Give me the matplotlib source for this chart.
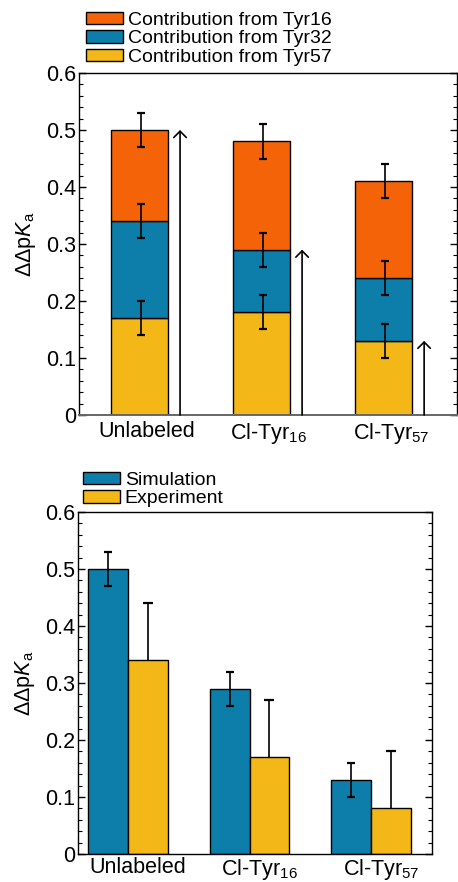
import numpy as np
import matplotlib.pyplot as plt
from matplotlib.ticker import MultipleLocator

plt.rcParams['font.family'] = ['Liberation Sans', 'DejaVu Sans']
plt.rcParams['mathtext.fontset'] = 'custom'
plt.rcParams['mathtext.rm'] = 'Liberation Sans'
plt.rcParams['mathtext.it'] = 'Liberation Sans:italic'

# 数据
groups = ['Unlabeled', 'Cl-Tyr$_{16}$', 'Cl-Tyr$_{57}$']
tyr57 = [0.17, 0.18, 0.13]
tyr32 = [0.17, 0.11, 0.11]
tyr16 = [0.16, 0.19, 0.17]
contrib_err = [0.03, 0.03, 0.03]
arrow_tops = [0.50, 0.29, 0.13]

simulation = [0.50, 0.29, 0.13]
sim_err = [0.03, 0.03, 0.03]
experiment = [0.34, 0.17, 0.08]
exp_err = [0.10, 0.10, 0.10]

c_orange = '#F56309'
c_blue = '#0D7EAA'
c_yellow = '#F4B718'

fig = plt.figure(figsize=(4.58, 8.82), dpi=100)
ax1 = fig.add_axes([0.1725, 0.5295, 0.8255, 0.3877])
ax2 = fig.add_axes([0.1703, 0.0317, 0.7727, 0.3878])

x = np.arange(len(groups))

# 上图：堆叠柱状图
w1 = 0.467
bottom32 = np.array(tyr57)
bottom16 = bottom32 + np.array(tyr32)
total = bottom16 + np.array(tyr16)
ax1.bar(x, tyr57, w1, color=c_yellow, edgecolor='black', lw=1.0, label='Contribution from Tyr57')
ax1.bar(x, tyr32, w1, bottom=bottom32, color=c_blue, edgecolor='black', lw=1.0, label='Contribution from Tyr32')
ax1.bar(x, tyr16, w1, bottom=bottom16, color=c_orange, edgecolor='black', lw=1.0, label='Contribution from Tyr16')
for tops in [bottom32, bottom16, total]:
    ax1.errorbar(x + 0.01, tops, yerr=contrib_err, fmt='none', ecolor='black',
                 elinewidth=1.2, capsize=2.6, capthick=1.6, zorder=5)
for xi, top in zip(x, arrow_tops):
    ax1.annotate('', xy=(xi + 0.332, top), xytext=(xi + 0.332, 0),
                 arrowprops=dict(arrowstyle='->,head_width=0.45,head_length=0.45',
                                 lw=1.2, color='black', shrinkA=0, shrinkB=0))
ax1.set_xlim(-0.496, 2.602)

# 下图：分组柱状图
w2 = 0.327
ax2.bar(x - w2 / 2, simulation, w2, color=c_blue, edgecolor='black', lw=1.0, label='Simulation')
ax2.bar(x + w2 / 2, experiment, w2, color=c_yellow, edgecolor='black', lw=1.0, label='Experiment')
ax2.errorbar(x - w2 / 2, simulation, yerr=sim_err, fmt='none', ecolor='black',
             elinewidth=1.2, capsize=2.6, capthick=1.6, zorder=5)
# 实验值只有上误差
exp_top = np.array(experiment) + np.array(exp_err)
ax2.errorbar(x + w2 / 2, experiment, yerr=[np.zeros(3), exp_err], fmt='none', ecolor='black',
             elinewidth=1.2, capsize=0, zorder=5)
ax2.plot(x + w2 / 2, exp_top, ls='none', marker='_', markersize=7.2, mew=1.6, color='black', zorder=5)
ax2.set_xlim(-0.411, 2.50)

for ax, off in [(ax1, 0.06), (ax2, 0.08)]:
    ax.set_ylim(0, 0.6)
    ax.yaxis.set_major_locator(MultipleLocator(0.1))
    ax.yaxis.set_minor_locator(MultipleLocator(0.02))
    ax.set_yticks([0, 0.1, 0.2, 0.3, 0.4, 0.5, 0.6])
    ax.set_yticklabels(['0', '0.1', '0.2', '0.3', '0.4', '0.5', '0.6'])
    ax.tick_params(axis='y', which='both', direction='in', left=True, right=True, labelsize=15.5, pad=2)
    ax.tick_params(axis='y', which='major', length=5, width=1)
    ax.tick_params(axis='y', which='minor', length=3, width=0.8)
    ax.set_xticks(x + off)
    ax.set_xticklabels(groups)
    ax.tick_params(axis='x', length=0, labelsize=15.5, pad=4)
    ax.set_ylabel('ΔΔp$K_\\mathrm{a}$', fontsize=15.5, labelpad=6)
    for s in ax.spines.values():
        s.set_linewidth(1.0)
ax1.spines['bottom'].set_color('#666666')
ax1.spines['bottom'].set_linewidth(1.4)
ax2.tick_params(axis='x', pad=2)

h, l = ax1.get_legend_handles_labels()
fig.legend(h[::-1], l[::-1], loc='upper left', bbox_to_anchor=(0.188, 0.9865), frameon=False,
           fontsize=14, borderpad=0, borderaxespad=0, handlelength=1.9, handleheight=0.6,
           handletextpad=0.25, labelspacing=0.07)
h, l = ax2.get_legend_handles_labels()
fig.legend(h, l, loc='upper left', bbox_to_anchor=(0.181, 0.4648), frameon=False,
           fontsize=14, borderpad=0, borderaxespad=0, handlelength=1.9, handleheight=0.6,
           handletextpad=0.25, labelspacing=0.07)

plt.savefig('out.png', dpi=100)
plt.close()
